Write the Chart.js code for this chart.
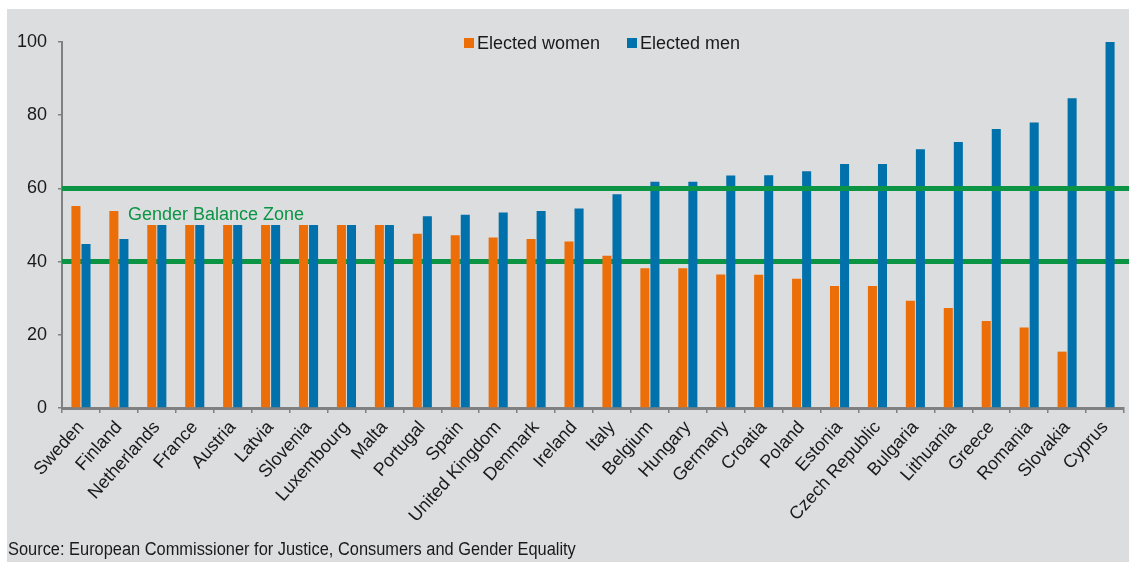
<!DOCTYPE html>
<html>
<head>
<meta charset="utf-8">
<script src="https://cdn.jsdelivr.net/npm/chart.js@4.4.1/dist/chart.umd.min.js"></script>
<style>
  html, body { margin: 0; padding: 0; background: #ffffff; }
  #panel {
    position: absolute; left: 7px; top: 9px; width: 1122px; height: 553px;
    background: #dcdddf; overflow: hidden;
  }
  #wrap { position: absolute; left: 0; top: 0; width: 1122px; height: 553px; }
  #legend {
    position: absolute; top: 24px; left: 457px;
    font-family: "Liberation Sans", Arial, sans-serif; font-size: 18px; color: #1a1a1a;
    white-space: nowrap;
  }
  #legend span.item { display: inline-block; margin-right: 27px; }
  #legend i { display: inline-block; width: 10px; height: 10px; margin-right: 3px; vertical-align: 1px; }
  #source {
    position: absolute; left: 1px; top: 530px;
    font-family: "Liberation Sans Narrow", "Arial Narrow", "Liberation Sans", sans-serif;
    font-size: 18px; color: #1a1a1a; white-space: nowrap;
    transform-origin: 0 50%;
  }
</style>
</head>
<body>
<div id="panel">
  <div id="wrap"><canvas id="grafico"></canvas></div>
  <div id="legend">
    <span class="item"><i style="background:#eb6e08"></i>Elected women</span><span class="item"><i style="background:#0071aa"></i>Elected men</span>
  </div>
  <div id="source">Source: European Commissioner for Justice, Consumers and Gender Equality</div>
</div>
<script>
// Datos del gráfico
const paises = ['Sweden', 'Finland', 'Netherlands', 'France', 'Austria', 'Latvia', 'Slovenia',
    'Luxembourg', 'Malta', 'Portugal', 'Spain', 'United Kingdom', 'Denmark', 'Ireland', 'Italy',
    'Belgium', 'Hungary', 'Germany', 'Croatia', 'Poland', 'Estonia', 'Czech Republic', 'Bulgaria',
    'Lithuania', 'Greece', 'Romania', 'Slovakia', 'Cyprus'];
const mujeres = [55.2, 53.8, 50, 50, 50, 50, 50, 50, 50, 47.6, 47.2, 46.6, 46.2, 45.5, 41.6,
    38.2, 38.2, 36.5, 36.4, 35.3, 33.3, 33.3, 29.3, 27.3, 23.8, 22.0, 15.4, 0];
const hombres = [44.8, 46.2, 50, 50, 50, 50, 50, 50, 50, 52.4, 52.8, 53.4, 53.8, 54.5, 58.4,
    61.8, 61.8, 63.5, 63.6, 64.7, 66.7, 66.7, 70.7, 72.7, 76.2, 78.0, 84.6, 100];
const ticksY = [0, 20, 40, 60, 80, 100];
const zonaBalance = [40, 60]; // límites de la zona de equilibrio

const VERDE = '#0b9444';
const FUENTE = '"Liberation Sans", Arial, sans-serif';

// El texto de la fuente es condensado en el original: se ajusta al ancho
const fuente = document.getElementById('source');
const anchoFuente = fuente.getBoundingClientRect().width;
fuente.style.transform = 'scaleX(' + (568 / anchoFuente).toFixed(3) + ')';

// Líneas verdes de la zona: la de 40 va detrás de las barras, la de 60 delante
const zonaPlugin = {
    id: 'zona',
    beforeDatasetsDraw(chart) {
        dibujarLinea(chart, zonaBalance[0]);
    },
    afterDatasetsDraw(chart) {
        dibujarLinea(chart, zonaBalance[1]);
        const ctx = chart.ctx;
        const y = chart.scales.y.getPixelForValue(zonaBalance[1]);
        ctx.save();
        ctx.fillStyle = VERDE;
        ctx.font = '18px ' + FUENTE;
        ctx.textBaseline = 'alphabetic';
        ctx.fillText('Gender Balance Zone', chart.chartArea.left + 66, y + 32);
        ctx.restore();
    }
};

function dibujarLinea(chart, valor) {
    const ctx = chart.ctx;
    const y = chart.scales.y.getPixelForValue(valor);
    ctx.save();
    ctx.beginPath();
    ctx.moveTo(chart.chartArea.left, y);
    ctx.lineTo(chart.width, y);
    ctx.strokeStyle = VERDE;
    ctx.lineWidth = 5;
    ctx.stroke();
    ctx.restore();
}

const chart = new Chart(document.getElementById('grafico'), {
    type: 'bar',
    data: {
        labels: paises,
        datasets: [{
            label: 'Elected women',
            data: mujeres,
            backgroundColor: '#eb6e08',
            barPercentage: 0.9,
            categoryPercentage: 0.53
        }, {
            label: 'Elected men',
            data: hombres,
            backgroundColor: '#0071aa',
            barPercentage: 0.9,
            categoryPercentage: 0.53
        }]
    },
    options: {
        responsive: true,
        maintainAspectRatio: false,
        animation: false,
        layout: { padding: { top: 33, right: 5, left: 0, bottom: 0 } },
        plugins: {
            legend: { display: false },
            tooltip: { enabled: false }
        },
        scales: {
            x: {
                afterFit: (scale) => { scale.height = 154; },
                grid: { display: true, drawOnChartArea: false, tickLength: 5, color: '#808080', lineWidth: 1.5 },
                border: { color: '#808080', width: 3 },
                ticks: {
                    minRotation: 48,
                    maxRotation: 48,
                    autoSkip: false,
                    padding: 4,
                    color: '#1a1a1a',
                    font: { family: FUENTE, size: 18 }
                }
            },
            y: {
                min: 0,
                max: 100,
                afterFit: (scale) => { scale.width = 55; },
                afterBuildTicks: (scale) => { scale.ticks = ticksY.map(v => ({ value: v })); },
                grid: { display: true, drawOnChartArea: false, tickLength: 4, color: '#808080', lineWidth: 1.5 },
                border: { color: '#808080', width: 2 },
                ticks: {
                    padding: 11,
                    color: '#1a1a1a',
                    font: { family: FUENTE, size: 18 }
                }
            }
        }
    },
    plugins: [zonaPlugin]
});
</script>
</body>
</html>
